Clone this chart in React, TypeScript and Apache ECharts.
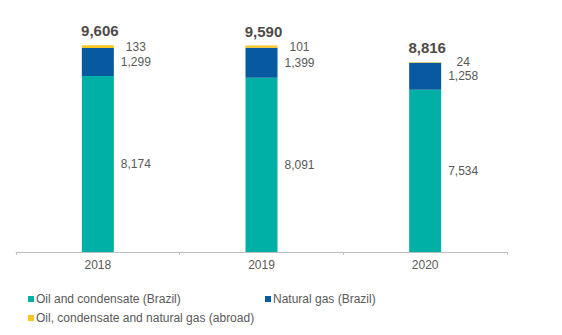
import React, { useEffect, useRef } from "react";
import * as echarts from "echarts";

const categories = ["2018", "2019", "2020"];
const oilBrazil = [8174, 8091, 7534];
const gasBrazil = [1299, 1399, 1258];
const abroad = [133, 101, 24];
const totals = [9606, 9590, 8816];

const seriesNames = [
  "Oil and condensate (Brazil)",
  "Natural gas (Brazil)",
  "Oil, condensate and natural gas (abroad)",
];

const FONT = "'Liberation Sans', Arial, sans-serif";
const GRAY = "#595959";

export default function App() {
  const ref = useRef<HTMLDivElement>(null);
  useEffect(() => {
    if (!ref.current) return;
    const chart = echarts.init(ref.current, undefined, { renderer: "svg" });
    const segLabel = {
      show: true,
      position: "inside",
      offset: [38, 0],
      color: GRAY,
      fontSize: 12,
      fontFamily: FONT,
      formatter: (p: any) => Number(p.value).toLocaleString("en-US"),
    };
    const legendBase = {
      icon: "rect",
      itemWidth: 6,
      itemHeight: 6,
      padding: 0,
      selectedMode: false,
      textStyle: { color: GRAY, fontSize: 12, fontFamily: FONT, padding: [0, 0, 0, -3] },
    };
    chart.setOption({
      animation: false,
      textStyle: { fontFamily: FONT },
      grid: { left: 16, right: 55, top: 36.7, bottom: 83, containLabel: false },
      legend: [
        { ...legendBase, data: [seriesNames[0]], left: 28, top: 293 },
        { ...legendBase, data: [seriesNames[1]], left: 265, top: 293 },
        { ...legendBase, data: [seriesNames[2]], left: 28, top: 312 },
      ],
      xAxis: {
        type: "category",
        data: categories,
        axisLine: { lineStyle: { color: "#bfbfbf", width: 1 } },
        axisTick: { show: true, length: 3, lineStyle: { color: "#bfbfbf" } },
        axisLabel: { color: GRAY, fontSize: 12, fontFamily: FONT, margin: 7 },
      },
      yAxis: {
        type: "value",
        min: 0,
        max: 10000,
        show: false,
        splitLine: { show: false },
      },
      series: [
        {
          name: seriesNames[0],
          type: "bar",
          stack: "t",
          barWidth: 32,
          data: oilBrazil,
          itemStyle: { color: "#00B0A6" },
          label: segLabel,
        },
        {
          name: seriesNames[1],
          type: "bar",
          stack: "t",
          barWidth: 32,
          data: gasBrazil,
          itemStyle: { color: "#0759A0" },
          label: segLabel,
        },
        {
          name: seriesNames[2],
          type: "bar",
          stack: "t",
          barWidth: 32,
          data: abroad,
          itemStyle: { color: "#F9C623" },
          label: segLabel,
        },
        {
          name: "Total",
          type: "bar",
          stack: "t",
          barWidth: 32,
          data: totals.map(() => 0),
          itemStyle: { color: "transparent" },
          label: {
            show: true,
            position: "top",
            distance: 7,
            offset: [2, 0],
            color: "#4f4a47",
            fontSize: 15,
            fontWeight: "bold",
            fontFamily: FONT,
            formatter: (p: any) => totals[p.dataIndex].toLocaleString("en-US"),
          },
        },
      ],
    });
    return () => chart.dispose();
  }, []);
  return <div ref={ref} style={{ width: 562, height: 335, position: "absolute", left: 0, top: 0 }} />;
}
